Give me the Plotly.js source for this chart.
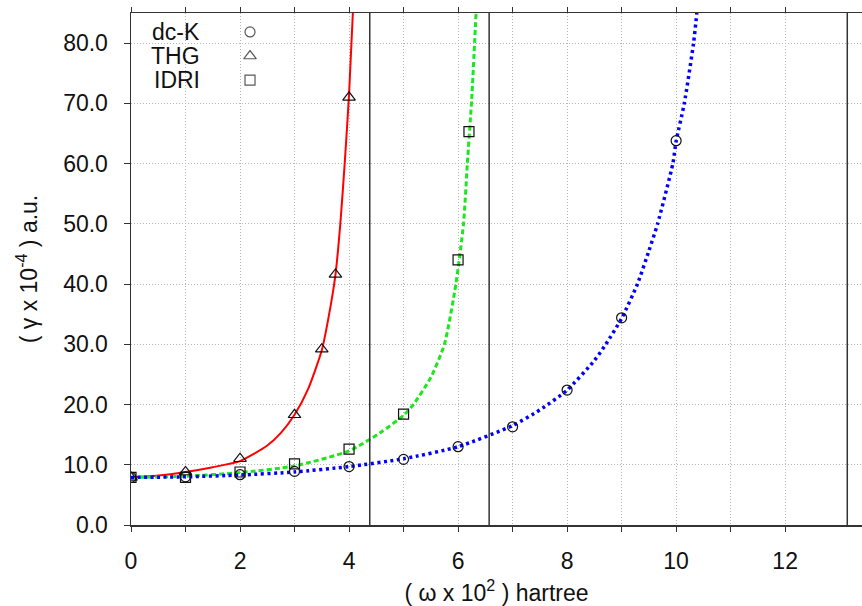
<!DOCTYPE html>
<html>
<head>
<meta charset="utf-8">
<script src="https://cdn.plot.ly/plotly-3.0.1.min.js"></script>
<style>html,body{margin:0;padding:0;background:#fff;}#chart{width:862px;height:606px;}</style>
</head>
<body>
<div id="chart"></div>
<script>
// ---- data ----
// measured points
const dcK_x = [0, 1, 2, 3, 4, 5, 6, 7, 8, 9, 10];
const dcK_y = [7.9, 8.0, 8.35, 8.9, 9.7, 10.9, 13.0, 16.3, 22.4, 34.4, 63.8];
const thg_x = [0, 1, 2, 3, 3.5, 3.75, 4];
const thg_y = [7.9, 8.8, 11.0, 18.3, 29.2, 41.6, 71.0];
const idri_x = [0, 1, 2, 3, 4, 5, 6, 6.2];
const idri_y = [7.9, 7.9, 8.8, 10.15, 12.6, 18.4, 44.0, 65.3];
// fitted curves
const thgCurve_x = [0, 0.5, 1, 1.5, 2, 2.5, 2.75, 3, 3.25, 3.5, 3.625, 3.75, 3.84, 3.92, 4.0, 4.07];
const thgCurve_y = [7.9, 8.2, 8.8, 9.6, 10.6, 13.2, 15.3, 18.3, 22.6, 29.0, 34.5, 41.5, 50, 60, 71.5, 85];
const idriCurve_x = [0, 1, 2, 3, 4, 4.57, 5, 5.18, 5.5, 5.75, 5.96, 6.1, 6.17, 6.25, 6.33];
const idriCurve_y = [7.9, 8.1, 8.7, 9.8, 12.3, 15.3, 18.2, 20, 24.5, 30, 40, 50, 60, 70.7, 85];
const dcKCurve_x = [0, 1, 2, 3, 4, 5, 6, 7, 7.5, 8, 8.5, 8.71, 9, 9.29, 9.5, 9.66, 9.94, 10, 10.15, 10.32, 10.38];
const dcKCurve_y = [7.9, 8.0, 8.3, 8.8, 9.7, 11.0, 13.0, 16.5, 19.1, 22.4, 27.3, 30, 34.3, 40, 45.5, 50, 60, 63.7, 70, 80, 85];
// vertical reference lines
const poles = [4.38, 6.57, 13.14];
// axes / ticks
const xMajorTicks = [0, 2, 4, 6, 8, 10, 12];
const xMinorTicks = [1, 3, 5, 7, 9, 11];
const yTickVals = [0, 10, 20, 30, 40, 50, 60, 70, 80];
const xRange = [0, 13.41];
const yRange = [0, 85];
// legend
const legendNames = ['dc-K', 'THG', 'IDRI'];
const legendSymbols = ['circle-open', 'triangle-up-open', 'square-open'];
const legendSizes = [10, 11, 10];

const FONT = 'Liberation Sans, Arial, sans-serif';
const FS = 23;
const AX = '#333333';
const GRID = '#b4b4b4';

// legend positions (fractions of the plot area)
const legendKeyX = 0.1628;
const legendY = [0.963, 0.916, 0.869];
const legendTextX = 0.0971;

const traces = [
  {x: thgCurve_x, y: thgCurve_y, mode: 'lines', line: {color: '#ff0000', width: 2, shape: 'spline', smoothing: 0.6}, hoverinfo: 'skip'},
  {x: idriCurve_x, y: idriCurve_y, mode: 'lines', line: {color: '#1ee61e', width: 3, dash: '5px,3px', shape: 'spline', smoothing: 0.6}, hoverinfo: 'skip'},
  {x: dcKCurve_x, y: dcKCurve_y, mode: 'lines', line: {color: '#0000ff', width: 3.5, dash: '3px,3.5px', shape: 'spline', smoothing: 0.6}, hoverinfo: 'skip'},
  {x: dcK_x, y: dcK_y, mode: 'markers', name: 'dc-K', marker: {symbol: 'circle-open', size: 10, color: '#111', line: {width: 1.2}}},
  {x: thg_x, y: thg_y, mode: 'markers', name: 'THG', marker: {symbol: 'triangle-up-open', size: 11, color: '#111', line: {width: 1.2}}},
  {x: idri_x, y: idri_y, mode: 'markers', name: 'IDRI', marker: {symbol: 'square-open', size: 10, color: '#111', line: {width: 1.2}}},
  // legend keys on a hidden overlaying helper axis pair
  {x: legendY.map(() => legendKeyX), y: legendY, xaxis: 'x3', yaxis: 'y3', mode: 'markers',
   marker: {symbol: legendSymbols, size: legendSizes, color: '#111', line: {width: 1.2}}, hoverinfo: 'skip'},
  // binds the top mirror axis
  {x: [xRange[0]], y: [yRange[0]], xaxis: 'x2', yaxis: 'y', mode: 'markers', marker: {opacity: 0}, hoverinfo: 'skip'}
];

const shapes = poles.map(p => ({type: 'line', xref: 'x', yref: 'paper', x0: p, x1: p, y0: 0, y1: 1,
  line: {color: AX, width: 1.5}}));

const annotations = legendNames.map((n, i) => ({
  text: n, xref: 'paper', yref: 'paper', x: legendTextX, y: legendY[i], xanchor: 'right', yanchor: 'middle',
  showarrow: false, font: {family: FONT, size: FS, color: '#111'}
}));

const minorX = {tickvals: xMinorTicks, ticks: 'outside', ticklen: 5, tickcolor: AX, tickwidth: 1,
  showgrid: true, gridcolor: GRID, griddash: '1px,2px', gridwidth: 1};

const layout = {
  width: 862, height: 606,
  margin: {l: 131, r: 0, t: 13, b: 81},
  paper_bgcolor: '#fff', plot_bgcolor: '#fff',
  showlegend: false,
  font: {family: FONT, size: FS, color: '#111'},
  xaxis: {
    range: xRange, tickvals: xMajorTicks,
    showgrid: true, gridcolor: GRID, griddash: '1px,2px', gridwidth: 1,
    minor: minorX,
    zeroline: false, showline: true, linecolor: AX, linewidth: 1.5,
    ticks: 'outside', ticklen: 5, tickcolor: AX, tickwidth: 1,
    ticklabelstandoff: 10,
    tickfont: {family: FONT, size: FS, color: '#111'},
    title: {text: '( ω x 10<sup>2</sup> ) hartree', font: {family: FONT, size: FS, color: '#111'}, standoff: 12},
    automargin: false
  },
  xaxis2: {
    overlaying: 'x', side: 'top', range: xRange, tickvals: xMajorTicks, showticklabels: false,
    minor: {tickvals: xMinorTicks, ticks: 'outside', ticklen: 5, tickcolor: AX, tickwidth: 1, showgrid: false},
    showgrid: false, zeroline: false, showline: true, linecolor: AX, linewidth: 1.5,
    ticks: 'outside', ticklen: 5, tickcolor: AX, tickwidth: 1
  },
  xaxis3: {overlaying: 'x', range: [0, 1], visible: false, fixedrange: true, anchor: 'y3'},
  yaxis3: {overlaying: 'y', range: [0, 1], visible: false, fixedrange: true, anchor: 'x3'},
  yaxis: {
    range: yRange, tickvals: yTickVals, tickformat: '.1f',
    showgrid: true, gridcolor: GRID, griddash: '1px,2px', gridwidth: 1,
    zeroline: false, showline: true, linecolor: AX, linewidth: 1.5,
    ticks: 'outside', ticklen: 6, tickcolor: AX, tickwidth: 1,
    ticklabelstandoff: 11,
    tickfont: {family: FONT, size: FS, color: '#111'},
    title: {text: '( γ x 10<sup>-4</sup> ) a.u.', font: {family: FONT, size: FS, color: '#111'}, standoff: 19},
    automargin: false
  },
  shapes: shapes,
  annotations: annotations
};

Plotly.newPlot('chart', traces, layout, {staticPlot: true, displayModeBar: false});
</script>
</body>
</html>
